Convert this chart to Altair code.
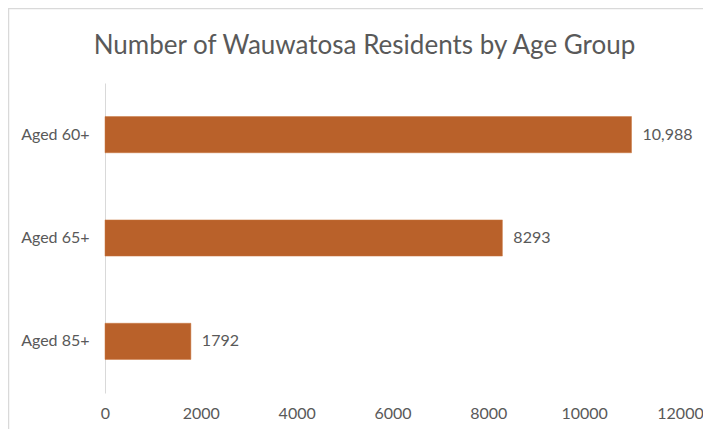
import altair as alt
import pandas as pd

categories = ["Aged 60+", "Aged 65+", "Aged 85+"]
values = [10988, 8293, 1792]
value_labels = ["10,988", "8293", "1792"]
x_ticks = [0, 2000, 4000, 6000, 8000, 10000, 12000]
title_text = ["Number of Wauwatosa Residents by Age Group"]

df = pd.DataFrame({"group": categories, "residents": values, "label": value_labels})

FONT = "Lato"
TEXT = "#595959"
BAR = "#B9612A"
W, H = 575, 310
PL, PT = 97, 75

y_enc = alt.Y("group:N", sort=categories,
              scale=alt.Scale(paddingInner=0.65, paddingOuter=0.325),
              axis=alt.Axis(title=None, ticks=False, domainColor="#d9d9d9", domainWidth=1,
                            labelFont=FONT, labelFontSize=16, labelColor=TEXT, labelPadding=16))

bars = alt.Chart(df).mark_bar(color=BAR, stroke="#c9773f", strokeWidth=0.5).encode(
    x=alt.X("residents:Q", scale=alt.Scale(domain=[0, 12000], nice=False),
            axis=alt.Axis(title=None, values=x_ticks, format="d", grid=False, domain=False, ticks=False,
                          labelFlush=False, labelOverlap=False,
                          labelFont=FONT, labelFontSize=16, labelColor=TEXT, labelPadding=12)),
    y=y_enc,
)

labels = alt.Chart(df).mark_text(align="left", baseline="middle", dx=11, font=FONT,
                                 fontSize=16, color=TEXT).encode(
    x="residents:Q", y=alt.Y("group:N", sort=categories), text="label:N")

title_df = pd.DataFrame({"t": title_text})
title = alt.Chart(title_df).mark_text(align="center", baseline="middle", font=FONT, fontSize=26,
                                      color=TEXT, clip=False).encode(
    x=alt.value(W / 2 - 28), y=alt.value(-37), text="t:N")

frame = pd.DataFrame({"k": [0]})
left_border = alt.Chart(frame).mark_rule(color="#d9d9d9", strokeWidth=1.5, clip=False).encode(
    x=alt.value(-PL + 0.5), y=alt.value(-PT), y2=alt.value(H + 60))
top_border = alt.Chart(frame).mark_rule(color="#d9d9d9", strokeWidth=1.5, clip=False).encode(
    x=alt.value(-PL), x2=alt.value(W + 40), y=alt.value(-PT + 0.5))

chart = alt.layer(bars, labels, title, left_border, top_border).properties(
    width=W, height=H,
    background="white",
    autosize=alt.AutoSizeParams(type="none"),
    padding={"left": PL, "top": PT, "right": 23, "bottom": 36},
).configure_view(strokeWidth=0)

chart.save("out.html", embed_options={"renderer": "svg", "actions": False})
